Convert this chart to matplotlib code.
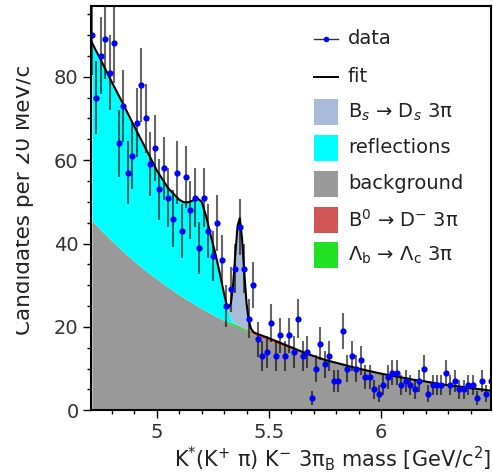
import numpy as np
import matplotlib
matplotlib.use("Agg")
import matplotlib.pyplot as plt
from matplotlib.patches import Rectangle
from matplotlib.lines import Line2D
from matplotlib.ticker import MultipleLocator
from matplotlib.transforms import Bbox, TransformedBbox

plt.rcParams['font.family'] = 'DejaVu Sans'
plt.rcParams['mathtext.default'] = 'regular'

# bins de 20 MeV, centro del primer bin 4.71 GeV
bin_first = 4.71
bin_width = 0.02
counts = [90, 75, 85, 89, 81, 88, 64, 73, 57, 61,
          69, 78, 70, 59, 63, 53, 58, 51, 46, 57,
          43, 56, 48, 51, 39, 51, 43, 37, 45, 36,
          25, 29, 34, 44, 34, 22, 30, 17, 13, 14,
          21, 13, 18, 13, 18, 14, 22, 13, 14, 3,
          10, 16, 11, 13, 7, 7, 19, 10, 13, 10,
          12, 8, 8, 5, 4, 6, 8, 9, 9, 6,
          7, 6, 5, 7, 10, 4, 6, 6, 6, 9,
          6, 7, 5, 5, 6, 6, 3, 7, 4, 7]

# componentes del ajuste
fit_mass = [4.71, 4.75, 4.80, 4.85, 4.90, 4.95, 5.00, 5.05, 5.10,
            5.12, 5.14, 5.16, 5.18, 5.20, 5.22, 5.24, 5.26, 5.28, 5.30,
            5.31, 5.32, 5.33, 5.34, 5.35, 5.36, 5.37, 5.38, 5.39, 5.40, 5.41, 5.42, 5.43, 5.44,
            5.47, 5.50,
            5.55, 5.60, 5.65, 5.70, 5.75, 5.80, 5.85, 5.90, 5.95, 6.00, 6.05, 6.10, 6.15, 6.20,
            6.25, 6.30, 6.35, 6.40, 6.45,
            6.49]
background = [45.5, 43.2, 40.6, 38.1, 35.7, 33.5, 31.5, 29.5, 27.7,
              27.0, 26.4, 25.7, 25.0, 24.4, 23.8, 23.2, 22.6, 22.1, 21.5,
              21.2, 21.0, 20.7, 20.4, 20.2, 19.9, 19.7, 19.4, 19.2, 18.9, 18.7, 18.5, 18.2, 18.0,
              17.3, 16.7,
              15.7, 14.7, 13.8, 12.9, 12.1, 11.4, 10.7, 10.0, 9.4, 8.8, 8.3, 7.8, 7.3, 6.9,
              6.4, 6.0, 5.7, 5.3, 5.0,
              4.7]
lambda_b = [0, 0, 0, 0, 0, 0, 0, 0, 0,
            0, 0, 0, 0, 0, 0, 0, 0, 0, 0.1,
            0.2, 0.3, 0.4, 0.4, 0.5, 0.5, 0.5, 0.4, 0.4, 0.3, 0.2, 0.1, 0, 0,
            0, 0,
            0, 0, 0, 0, 0, 0, 0, 0, 0, 0, 0, 0, 0, 0,
            0, 0, 0, 0, 0,
            0]
b0 = [0, 0, 0, 0, 0, 0, 0, 0, 0,
      0, 0, 0, 0, 0, 0, 0, 0, 0, 0,
      0, 0, 0, 0, 0, 0, 0, 0.1, 0.1, 0.2, 0.3, 0.4, 0.5, 0.5,
      0.6, 0.6,
      0.5, 0.4, 0.2, 0.1, 0, 0, 0, 0, 0, 0, 0, 0, 0, 0,
      0, 0, 0, 0, 0,
      0]
reflections = [42.7, 40.8, 38.0, 35.3, 32.3, 29.3, 26.0, 23.8, 22.8,
               22.9, 23.5, 24.6, 25.9, 25.6, 22.7, 18.8, 15.2, 10.9, 6.3,
               4.0, 2.2, 1.0, 0.4, 0.1, 0, 0, 0, 0, 0, 0, 0, 0, 0,
               0, 0,
               0, 0, 0, 0, 0, 0, 0, 0, 0, 0, 0, 0, 0, 0,
               0, 0, 0, 0, 0,
               0]
bs_signal = [0, 0, 0, 0, 0, 0, 0, 0, 0,
             0, 0, 0, 0, 0, 0, 0, 0, 0, 0,
             0.25, 1.1, 3.5, 8.8, 16.6, 23.8, 25.9, 21.3, 13.3, 6.3, 2.3, 0.6, 0.1, 0,
             0, 0,
             0, 0, 0, 0, 0, 0, 0, 0, 0, 0, 0, 0, 0, 0,
             0, 0, 0, 0, 0,
             0]

legend_labels = ['data', 'fit', r'B$_{\it s}$ → D$_{\it s}$ 3π', 'reflections',
                 'background', r'B$^0$ → D$^{-}$ 3π',
                 r'Λ$_b$ → Λ$_c$ 3π']

mass = bin_first + bin_width*np.arange(len(counts))
counts = np.array(counts, dtype=float)
err = np.sqrt(counts)

x = np.array(fit_mass)
c_gris = '#999999'
c_verde = '#22e022'
c_rojo = '#d05555'
c_cian = '#00ffff'
c_azul = '#aabbd9'

s0 = np.array(background)
s1 = s0 + np.array(lambda_b)
s2 = s1 + np.array(b0)
s3 = s2 + np.array(reflections)
s4 = s3 + np.array(bs_signal)

fig = plt.figure(figsize=(4.93, 4.74), dpi=100)
ax = fig.add_axes([91/493, 63.7/474, 400/493, 404/474])

ax.fill_between(x, 0, s0, color=c_gris, lw=0)
ax.fill_between(x, s0, s1, color=c_verde, lw=0)
ax.fill_between(x, s1, s2, color=c_rojo, lw=0)
ax.fill_between(x, s2, s3, color=c_cian, lw=0)
ax.fill_between(x, s3, s4, color=c_azul, lw=0)
ax.plot(x, s4, color='black', lw=1.5)

ax.errorbar(mass, counts, yerr=err, fmt='none', ecolor='black', alpha=0.6,
            elinewidth=1.5, capsize=0)
ax.plot(mass, counts, 'o', color='blue', ms=4.5, mec='none')

ax.set_xlim(4.706, 6.491)
ax.set_ylim(0, 96.9)
ax.set_xticks([5, 5.5, 6])
ax.set_xticklabels(['5', '5.5', '6'])
ax.set_yticks([0, 20, 40, 60, 80])
ax.xaxis.set_minor_locator(MultipleLocator(0.1))
ax.yaxis.set_minor_locator(MultipleLocator(5))
ax.tick_params(which='major', direction='out', length=6, width=1, labelsize=14,
               labelcolor='#333333', pad=3)
ax.tick_params(which='minor', direction='out', length=3, width=1)
for s in ax.spines.values():
    s.set_linewidth(1.5)

ax.set_xlabel(r'K$^{*}$(K$^{+}$ π) K$^{-}$ 3π$_{B}$ mass [GeV/c$^{2}$]',
              loc='right', fontsize=15, color='#222222', labelpad=2)

# titulo del eje y, cortado por el borde izquierdo
yl = fig.text(34/493, 1 - 200/474, 'Candidates per 20 MeV/c', rotation=90,
              ha='right', va='center', fontsize=15.5, color='#222222')
yl.set_clip_box(TransformedBbox(Bbox([[16/493, 0], [1, 1]]), fig.transFigure))
yl.set_clip_on(True)

# leyenda manual
def fx(px):
    return (px - 91)/400.0

def fy(py):
    return (410.3 - py)/404.0

ys = [39, 77, 112, 148, 184, 220, 255]
ax.add_line(Line2D([fx(314), fx(338)], [fy(ys[0]), fy(ys[0])], transform=ax.transAxes,
                   color='#333333', lw=1))
ax.plot([fx(326)], [fy(ys[0])], 'o', color='blue', ms=4, mec='none', transform=ax.transAxes)
ax.add_line(Line2D([fx(314), fx(338)], [fy(ys[1]), fy(ys[1])], transform=ax.transAxes,
                   color='black', lw=1.4))
for yy, col in zip(ys[2:], [c_azul, c_cian, c_gris, c_rojo, c_verde]):
    ax.add_patch(Rectangle((fx(314), fy(yy + 13)), fx(338) - fx(314), 26/404.0,
                           transform=ax.transAxes, color=col, lw=0))
for yy, lab in zip(ys, legend_labels):
    ax.text(fx(348), fy(yy), lab, transform=ax.transAxes, ha='left', va='center',
            fontsize=14, color='#222222')

fig.savefig('out.png', dpi=100)
